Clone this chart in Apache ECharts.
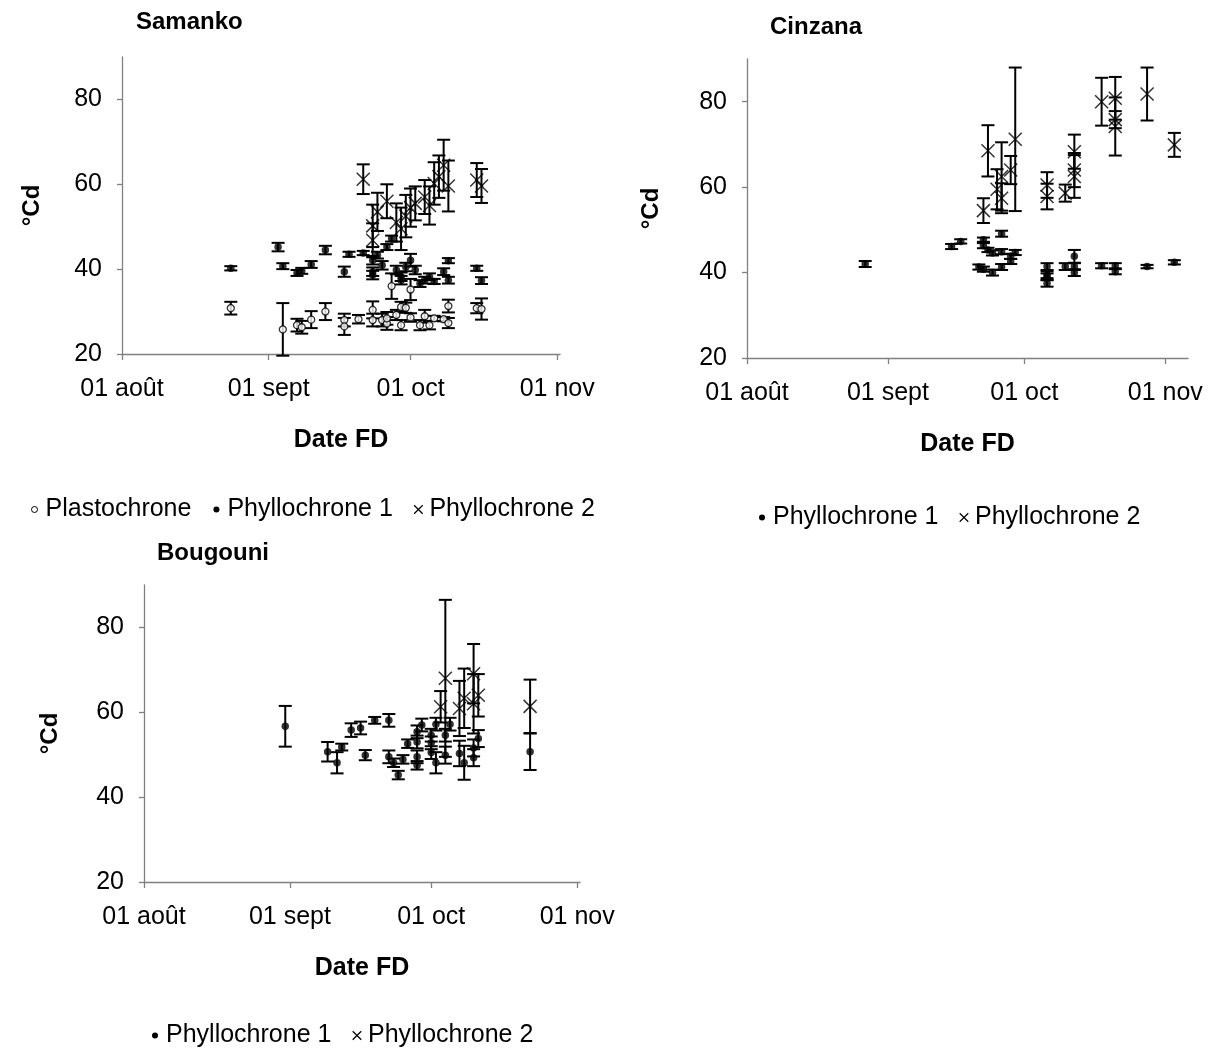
<!DOCTYPE html>
<html><head><meta charset="utf-8">
<script src="https://cdn.jsdelivr.net/npm/echarts@6/dist/echarts.min.js"></script>
<style>html,body{margin:0;padding:0;background:#fff}#c{width:1220px;height:1050px}</style>
</head><body><div id="c"></div><script>
// ---- axis ticks ----
const tickDays = [0, 31, 61, 92];
const tickLabels = ['01 août', '01 sept', '01 oct', '01 nov'];
const yTicks = [20, 40, 60, 80];

// ---- Samanko ----
const samPlastoDates = ['08-24','09-04','09-07','09-08','09-10','09-13','09-17','09-17','09-20','09-23','09-23','09-25','09-26','09-26','09-27','09-28','09-29','09-29','09-30','10-01','10-01','10-03','10-04','10-05','10-06','10-08','10-09','10-09','10-15','10-16'];
const samPlastoValues = [30.8,25.8,26.8,26.3,28.1,30.0,28.0,26.5,28.2,30.4,28.0,28.0,27.2,28.4,36.0,29.2,26.8,31.1,30.9,35.2,28.6,26.8,28.9,26.8,28.4,28.2,31.3,27.3,30.8,30.6];
const samPlastoErrors = [1.5,6.2,1.5,1.5,2.0,2.0,1.5,2.0,1.0,2.0,1.5,1.5,1.5,1.5,3.0,1.2,1.2,1.2,1.2,2.5,1.0,1.2,1.5,1.0,0.6,0.5,1.5,1.2,1.2,2.5];

const samP1Dates = ['08-24','09-03','09-04','09-07','09-08','09-10','09-13','09-17','09-18','09-21','09-23','09-23','09-23','09-24','09-25','09-26','09-27','09-28','09-29','09-29','09-30','10-01','10-02','10-03','10-04','10-05','10-06','10-08','10-09','10-09','10-15','10-16'];
const samP1Values = [40.2,45.2,40.7,39.1,39.6,41.1,44.5,39.4,43.5,43.8,42.1,39.4,38.6,43.3,40.9,45.2,47.2,39.8,38.2,37.4,40.5,42.1,39.8,36.6,37.4,38.2,37.1,39.4,42.0,37.4,40.2,37.3];
const samP1Errors = [0.5,1.0,0.7,0.7,0.7,0.8,1.0,1.2,0.6,0.5,1.0,1.0,1.0,0.8,1.0,0.7,0.7,1.0,1.0,1.0,1.0,1.5,1.0,0.8,0.8,0.8,0.6,0.8,0.6,0.8,0.6,0.8];

const samP2Dates = ['09-21','09-23','09-23','09-24','09-26','09-28','09-29','09-30','10-01','10-02','10-04','10-05','10-06','10-07','10-08','10-09','10-15','10-16'];
const samP2Values = [61.2,46.8,50.2,53.5,56.0,51.0,49.5,52.5,54.5,55.5,57.0,55.0,60.2,61.8,64.5,59.6,61.0,59.6];
const samP2Errors = [3.5,4.0,5.0,4.5,4.0,4.5,5.0,5.0,4.5,4.0,4.0,4.5,5.0,5.0,6.0,6.0,4.0,4.0];

// ---- Cinzana ----
const cinP1Dates = ['08-27','09-15','09-17','09-21','09-22','09-22','09-22','09-23','09-24','09-24','09-26','09-26','09-26','09-28','09-28','09-29','10-06','10-06','10-06','10-06','10-10','10-12','10-12','10-12','10-18','10-21','10-21','10-28','11-03'];
const cinP1Values = [42.0,46.1,47.3,41.3,47.7,46.3,40.8,45.3,44.6,40.0,49.1,44.9,41.3,43.8,42.6,44.7,41.4,39.5,37.5,39.0,41.4,43.8,41.4,40.0,41.6,41.6,40.2,41.4,42.4];
const cinP1Errors = [0.7,0.6,0.5,0.6,0.5,0.6,0.6,0.5,0.6,0.7,0.7,0.6,0.7,0.6,0.6,0.6,0.8,0.8,0.8,0.8,0.8,1.5,0.8,0.8,0.6,0.6,0.6,0.4,0.5];

const cinP2Dates = ['09-22','09-23','09-25','09-26','09-26','09-28','09-29','10-06','10-06','10-10','10-12','10-12','10-12','10-18','10-21','10-21','10-21','10-28','11-03'];
const cinP2Values = [54.5,68.5,59.5,57.4,62.5,64.0,71.2,60.5,57.8,58.6,68.3,62.5,64.0,80.0,80.8,74.2,75.8,81.8,69.9];
const cinP2Errors = [2.9,6.0,4.7,3.5,8.0,3.3,16.8,3.0,3.0,2.0,4.0,5.0,4.0,5.6,5.0,6.8,2.0,6.2,2.8];

// ---- Bougouni ----
const bouP1Dates = ['08-31','09-09','09-11','09-12','09-14','09-16','09-17','09-19','09-22','09-22','09-23','09-24','09-25','09-26','09-28','09-28','09-28','09-28','09-29','10-01','10-01','10-01','10-02','10-02','10-04','10-04','10-05','10-07','10-08','10-10','10-10','10-11','10-22'];
const bouP1Values = [56.7,50.7,48.1,51.8,55.8,56.3,49.9,58.1,58.1,49.5,48.1,45.2,48.9,52.6,53.0,55.4,49.5,47.5,57.0,54.6,52.8,50.5,57.2,48.1,54.6,49.9,57.2,50.3,48.1,49.3,51.6,53.8,50.7];
const bouP1Errors = [4.8,2.3,2.5,0.8,1.6,1.5,1.2,0.8,1.5,1.5,1.0,1.0,1.0,1.0,1.5,1.5,1.5,1.0,1.5,1.5,1.5,1.5,1.5,2.5,1.5,2.0,1.5,3.0,4.0,2.0,2.0,2.0,4.3];

const bouP2Dates = ['10-03','10-04','10-07','10-08','10-10','10-10','10-11','10-22'];
const bouP2Values = [61.3,68.0,60.9,63.3,69.1,62.0,64.0,61.4];
const bouP2Errors = [3.7,18.5,6.5,7.0,7.0,7.0,5.0,6.3];

// ---- helpers ----
const F = 'Liberation Sans, Arial, sans-serif';
const BASE = Date.UTC(2007, 7, 1);
function dayOf(s) { const p = s.split('-'); return (Date.UTC(2007, +p[0] - 1, +p[1]) - BASE) / 86400000; }
function rows(dates, vals, errs) { return dates.map((d, i) => [dayOf(d), vals[i], errs[i]]); }

const X_PATH = 'path://M0,0L10,10M10,0L0,10';
const DOT_ICON = 'path://M0,0M12,12M3,6a3,3 0 1,0 6,0a3,3 0 1,0 -6,0Z';
const styles = {
  'Plastochrone': { symbol: 'circle', symbolSize: 7, itemStyle: { color: '#fff', borderColor: '#000', borderWidth: 1.3 } },
  'Phyllochrone 1': { symbol: 'circle', symbolSize: 7.5, itemStyle: { color: '#000', borderWidth: 0 } },
  'Phyllochrone 2': { symbol: X_PATH, symbolSize: 13, itemStyle: { color: '#000', borderColor: '#000', borderWidth: 1.5 } }
};
const legendItems = {
  'Plastochrone': { name: 'Plastochrone', icon: DOT_ICON, itemStyle: { color: '#fff', borderColor: '#000', borderWidth: 1 } },
  'Phyllochrone 1': { name: 'Phyllochrone 1', icon: DOT_ICON, itemStyle: { color: '#000', borderWidth: 0 } },
  'Phyllochrone 2': { name: 'Phyllochrone 2', icon: 'path://M0,0M14,14M2,2L12,12M12,2L2,12', itemStyle: { color: '#000', borderColor: '#000', borderWidth: 1.2 } }
};

function renderErr(params, api) {
  const x = api.value(0), y = api.value(1), e = api.value(2);
  const t = api.coord([x, y + e]), b = api.coord([x, y - e]);
  const hw = 6.5;
  const st = { stroke: '#000', lineWidth: 2 };
  return { type: 'group', children: [
    { type: 'line', shape: { x1: t[0], y1: t[1], x2: b[0], y2: b[1] }, style: st },
    { type: 'line', shape: { x1: t[0] - hw, y1: t[1], x2: t[0] + hw, y2: t[1] }, style: st },
    { type: 'line', shape: { x1: b[0] - hw, y1: b[1], x2: b[0] + hw, y2: b[1] }, style: st }
  ]};
}

const series = [];
function addSet(idx, name, dates, vals, errs) {
  const data = rows(dates, vals, errs);
  series.push({ type: 'custom', name: name, xAxisIndex: idx, yAxisIndex: idx, renderItem: renderErr,
    encode: { x: 0, y: 1 }, data: data, z: 2, silent: true });
  series.push(Object.assign({ type: 'scatter', name: name, xAxisIndex: idx, yAxisIndex: idx,
    data: data.map(r => [r[0], r[1]]), z: 3 }, styles[name]));
}
addSet(0, 'Plastochrone', samPlastoDates, samPlastoValues, samPlastoErrors);
addSet(0, 'Phyllochrone 1', samP1Dates, samP1Values, samP1Errors);
addSet(0, 'Phyllochrone 2', samP2Dates, samP2Values, samP2Errors);
addSet(1, 'Phyllochrone 1', cinP1Dates, cinP1Values, cinP1Errors);
addSet(1, 'Phyllochrone 2', cinP2Dates, cinP2Values, cinP2Errors);
addSet(2, 'Phyllochrone 1', bouP1Dates, bouP1Values, bouP1Errors);
addSet(2, 'Phyllochrone 2', bouP2Dates, bouP2Values, bouP2Errors);

const grids = [
  { left: 122, top: 57, width: 438, height: 297, xmax: 92.6 },
  { left: 747, top: 59, width: 441, height: 299, xmax: 97 },
  { left: 144, top: 585, width: 436, height: 297, xmax: 92.6 }
];
const axisLineStyle = { lineStyle: { color: '#808080', width: 1.3 } };
const txt = { color: '#000', fontFamily: F, fontSize: 25 };
const titleStyle = { color: '#000', fontFamily: F, fontSize: 24, fontWeight: 'bold' };

const option = {
  backgroundColor: '#fff',
  animation: false,
  title: [
    { text: 'Samanko', left: 136, top: 10, padding: 0, textStyle: titleStyle },
    { text: 'Cinzana', left: 770, top: 15, padding: 0, textStyle: titleStyle },
    { text: 'Bougouni', left: 157, top: 541, padding: 0, textStyle: titleStyle }
  ],
  legend: [
    { left: 28, top: 497, padding: 0, itemGap: 19, itemWidth: 12, itemHeight: 12, textStyle: txt,
      data: [legendItems['Plastochrone'], legendItems['Phyllochrone 1'], legendItems['Phyllochrone 2']], selectedMode: false },
    { left: 756, top: 505, padding: 0, itemGap: 19, itemWidth: 12, itemHeight: 12, textStyle: txt,
      data: [legendItems['Phyllochrone 1'], legendItems['Phyllochrone 2']], selectedMode: false },
    { left: 149, top: 1023, padding: 0, itemGap: 19, itemWidth: 12, itemHeight: 12, textStyle: txt,
      data: [legendItems['Phyllochrone 1'], legendItems['Phyllochrone 2']], selectedMode: false }
  ],
  grid: grids.map(g => ({ left: g.left, top: g.top, width: g.width, height: g.height, containLabel: false })),
  xAxis: grids.map((g, i) => ({
    type: 'value', gridIndex: i, min: 0, max: g.xmax,
    name: 'Date FD', nameLocation: 'middle', nameGap: 74,
    nameTextStyle: { color: '#000', fontFamily: F, fontSize: 25, fontWeight: 'bold' },
    axisLine: Object.assign({ show: true, onZero: false }, axisLineStyle),
    axisTick: { show: true, length: 6, customValues: tickDays, lineStyle: { color: '#808080', width: 1.3 } },
    axisLabel: { customValues: tickDays, margin: 23, color: '#000', fontFamily: F, fontSize: 25,
      formatter: v => tickLabels[tickDays.indexOf(Math.round(v))] || '' },
    splitLine: { show: false }
  })),
  yAxis: grids.map((g, i) => ({
    type: 'value', gridIndex: i, min: 20, max: 90,
    name: '°Cd', nameLocation: 'middle', nameRotate: 90, nameGap: i === 1 ? 84 : (i === 2 ? 82 : 78),
    nameTextStyle: { color: '#000', fontFamily: F, fontSize: 24, fontWeight: 'bold' },
    axisLine: Object.assign({ show: true, onZero: false }, axisLineStyle),
    axisTick: { show: true, length: 5, customValues: yTicks, lineStyle: { color: '#808080', width: 1.3 } },
    axisLabel: { customValues: yTicks, margin: 20, color: '#000', fontFamily: F, fontSize: 25 },
    splitLine: { show: false }
  })),
  series: series
};
const chart = echarts.init(document.getElementById('c'), null, { renderer: 'canvas' });
chart.setOption(option);
</script></body></html>
